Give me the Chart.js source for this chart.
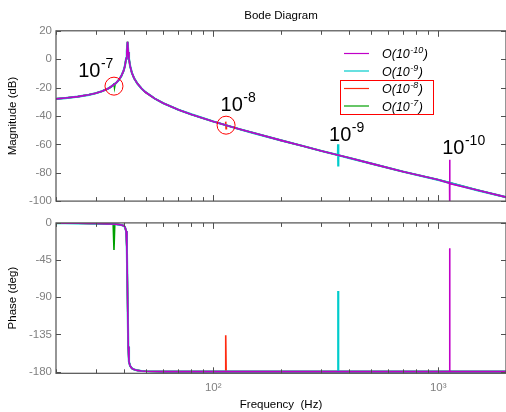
<!DOCTYPE html>
<html>
<head>
<meta charset="utf-8">
<script src="https://cdn.jsdelivr.net/npm/chart.js@4.4.0/dist/chart.umd.min.js"></script>
<style>
  body { margin: 0; background: #fff; }
  #wrap { position: relative; width: 506px; height: 412px; overflow: hidden; }
  canvas { position: absolute; left: 0; }
  #magChart { top: 0; }
  #phaseChart { top: 212px; }
</style>
</head>
<body>
<div id="wrap">
  <canvas id="magChart" width="506" height="212"></canvas>
  <canvas id="phaseChart" width="506" height="200"></canvas>
</div>
<script>
// shared response
var freqHz   = [20, 22, 25, 28, 30, 32, 34, 35, 37, 38, 39, 40, 40.5, 41, 41.3, 41.6, 41.9, 42.2, 42.7, 43.5, 44.5, 46, 48, 50, 55, 60, 70, 80, 100, 130, 150, 200, 250, 300, 400, 500, 700, 1000, 1500, 2000];
var magDb    = [-28, -27.4, -26.4, -25.1, -24, -22.6, -20.8, -19.6, -16.7, -14.7, -12, -7.9, -4.7, 0.5, 5.5, 12.3, 5, 0.4, -4.9, -9.7, -13.5, -17.2, -20.7, -23.3, -27.8, -31, -35.6, -38.9, -43.9, -49.2, -51.9, -57.2, -61.2, -64.5, -69.5, -73.4, -79.3, -85, -92.4, -97.2];
var phaseDeg = [-0.3, -0.4, -0.5, -0.7, -0.8, -1, -1.2, -1.3, -1.6, -2, -2.5, -3.5, -5, -10, -30, -90, -150, -168, -173, -176, -177.5, -178.5, -179.2, -179.5, -179.8, -180, -180, -180, -180, -180, -180, -180, -180, -180, -180, -180, -180, -180, -180, -180];

// series: O(10^-10), O(10^-9), O(10^-8), O(10^-7)
var seriesExp = ['-10', '-9', '-8', '-7'];
var seriesColors = ['#c000c8', '#00cccc', '#ff2a10', '#00a000'];
var lineWidths = [1.6, 2.2, 1.6, 1.6];

// spikes of each series
var magSpikeHz = [[1122.5, 1123.8, 1125, 1126.2], [358.2, 358.7, 359.2, 359.7], [113.2, 113.6, 114, 114.4], [36, 36.2, 36.4, 36.6]];
var magSpikeDb = [[-87.4, -70.8, -110, -87.6], [-67.5, -60, -75.6, -67.7], [-46.4, -44, -49, -46.6], [-18.4, -16.8, -20, -17.9]];
var phaseSpikeHz  = [[1123, 1124.2, 1125.4], [358.4, 359, 359.6], [113.1, 113.6, 114.1], [35.9, 36.2, 36.5]];
var phaseSpikeDeg = [[-180, -30.7, -180], [-180, -82.5, -180], [-180, -136, -180], [-1.3, -32.7, -1.3]];

var magTicks = [20, 0, -20, -40, -60, -80, -100];
var phaseTicks = [0, -45, -90, -135, -180];
var decadeTicks = [100, 1000];
var minorTicks = [20, 30, 40, 50, 60, 70, 80, 90, 200, 300, 400, 500, 600, 700, 800, 900, 2000];

// text marks on the magnitude plot: [Hz, dB, exponent]
var orderLabels = [[25.1, -12.6, '-7'], [107.7, -36.5, '-8'], [327, -57.5, '-9'], [1041, -66.7, '-10']];
var circleMarks = [[36.2, -19], [114, -46.5]];

var FONT = '"Liberation Sans", Arial, sans-serif';

function mergePoints(xs, ys, sx, sy) {
  var pts = [];
  for (var i = 0; i < xs.length; i++) pts.push({x: xs[i], y: ys[i]});
  for (var j = 0; j < sx.length; j++) pts.push({x: sx[j], y: sy[j]});
  pts.sort(function (a, b) { return a.x - b.x; });
  return pts;
}

function makeSets(ys, spikeX, spikeY) {
  return seriesExp.map(function (e, i) {
    return {
      label: 'O(10^' + e + ')',
      data: mergePoints(freqHz, ys, spikeX[i], spikeY[i]),
      borderColor: seriesColors[i],
      borderWidth: lineWidths[i],
      pointRadius: 0,
      tension: 0
    };
  });
}

var frame = {
  id: 'frame',
  afterDraw: function (chart, args, opts) {
    var c = chart.ctx, a = chart.chartArea;
    var xs = chart.scales.x, ys = chart.scales.y;
    c.save();
    c.strokeStyle = '#505050';
    c.lineWidth = 1.2;
    c.strokeRect(a.left, a.top, a.right - a.left, a.bottom - a.top);
    c.lineWidth = 1;
    c.beginPath();
    ys.ticks.forEach(function (t) {
      var y = Math.round(ys.getPixelForValue(t.value)) + 0.5;
      c.moveTo(a.left, y); c.lineTo(a.left + 5, y);
      c.moveTo(a.right, y); c.lineTo(a.right - 5, y);
    });
    minorTicks.forEach(function (v) {
      var x = Math.round(xs.getPixelForValue(v)) + 0.5;
      c.moveTo(x, a.top); c.lineTo(x, a.top + 4);
      c.moveTo(x, a.bottom); c.lineTo(x, a.bottom - 4);
    });
    decadeTicks.forEach(function (v) {
      var x = Math.round(xs.getPixelForValue(v)) + 0.5;
      c.moveTo(x, a.top); c.lineTo(x, a.top + 6);
      c.moveTo(x, a.bottom); c.lineTo(x, a.bottom - 6);
    });
    c.stroke();

    if (opts.marks) {
      // order labels
      c.fillStyle = '#000';
      c.textBaseline = 'alphabetic';
      orderLabels.forEach(function (m) {
        var x = xs.getPixelForValue(m[0]), y = ys.getPixelForValue(m[1]);
        c.font = '20px ' + FONT;
        c.fillText('10', x, y);
        var w = c.measureText('10').width;
        c.font = '14px ' + FONT;
        c.fillText(m[2], x + w + 0.5, y - 9);
      });
      // circles
      c.strokeStyle = '#ff0000';
      c.lineWidth = 1;
      circleMarks.forEach(function (m) {
        c.beginPath();
        c.arc(xs.getPixelForValue(m[0]), ys.getPixelForValue(m[1]), 9, 0, Math.PI * 2);
        c.stroke();
      });
      // legend
      var rows = [53.5, 71, 88.5, 106];
      chart.data.datasets.forEach(function (ds, i) {
        var y = rows[i];
        c.strokeStyle = ds.borderColor;
        c.lineWidth = 1.2;
        c.beginPath();
        c.moveTo(344, y); c.lineTo(369, y);
        c.stroke();
        c.fillStyle = '#000';
        c.font = 'italic 12.5px ' + FONT;
        c.fillText('O(10', 382, y + 4.5);
        var w = c.measureText('O(10').width;
        c.font = 'italic 9px ' + FONT;
        c.fillText(seriesExp[i], 382 + w + 0.5, y - 0.5);
        var w2 = c.measureText(seriesExp[i]).width;
        c.font = 'italic 12.5px ' + FONT;
        c.fillText(')', 382 + w + w2 + 1, y + 4.5);
      });
      c.strokeStyle = '#ff0000';
      c.lineWidth = 1;
      c.strokeRect(340.5, 80.5, 93, 34);
    }
    c.restore();
  }
};

var tickFont = {family: FONT, size: 11.5};
var titleFont = {family: FONT, size: 11.5, weight: 'normal'};

var magChart = new Chart(document.getElementById('magChart').getContext('2d'), {
  type: 'line',
  data: {datasets: makeSets(magDb, magSpikeHz, magSpikeDb)},
  options: {
    responsive: false,
    animation: false,
    layout: {padding: {top: 0, bottom: 6.5, left: 0, right: 0}},
    plugins: {
      legend: {display: false},
      tooltip: {enabled: false},
      title: {display: true, text: 'Bode Diagram', fullSize: false, color: '#000', font: titleFont, padding: {top: 9, bottom: 8}},
      frame: {marks: true}
    },
    scales: {
      x: {type: 'logarithmic', min: 20, max: 2000, display: false},
      y: {
        min: -100, max: 20,
        afterBuildTicks: function (s) { s.ticks = magTicks.map(function (v) { return {value: v}; }); },
        afterFit: function (s) { s.width = 56; },
        grid: {display: false, drawTicks: false},
        border: {display: false},
        ticks: {color: '#808080', font: tickFont, padding: 4},
        title: {display: true, text: 'Magnitude (dB)', color: '#000', font: titleFont, padding: {top: 6, bottom: 0}}
      }
    }
  },
  plugins: [frame]
});

var phaseChart = new Chart(document.getElementById('phaseChart').getContext('2d'), {
  type: 'line',
  data: {datasets: makeSets(phaseDeg, phaseSpikeHz, phaseSpikeDeg)},
  options: {
    responsive: false,
    animation: false,
    layout: {padding: {top: 7, bottom: 0, left: 0, right: 0}},
    plugins: {
      legend: {display: false},
      tooltip: {enabled: false},
      frame: {marks: false}
    },
    scales: {
      x: {
        type: 'logarithmic', min: 20, max: 2000,
        afterBuildTicks: function (s) { s.ticks = decadeTicks.map(function (v) { return {value: v}; }); },
        afterFit: function (s) { s.height = 38.7; },
        grid: {display: false, drawTicks: false},
        border: {display: false},
        ticks: {color: '#808080', font: tickFont, padding: 8, maxRotation: 0, autoSkip: false,
          callback: function (v) { return v == 100 ? '10\u00b2' : '10\u00b3'; }},
        title: {display: true, text: 'Frequency  (Hz)', color: '#000', font: titleFont, padding: {top: 0, bottom: 0}}
      },
      y: {
        min: -182, max: 0,
        afterBuildTicks: function (s) { s.ticks = phaseTicks.map(function (v) { return {value: v}; }); },
        afterFit: function (s) { s.width = 56; },
        grid: {display: false, drawTicks: false},
        border: {display: false},
        ticks: {color: '#808080', font: tickFont, padding: 4},
        title: {display: true, text: 'Phase (deg)', color: '#000', font: titleFont, padding: {top: 6, bottom: 0}}
      }
    }
  },
  plugins: [frame]
});
</script>
</body>
</html>
